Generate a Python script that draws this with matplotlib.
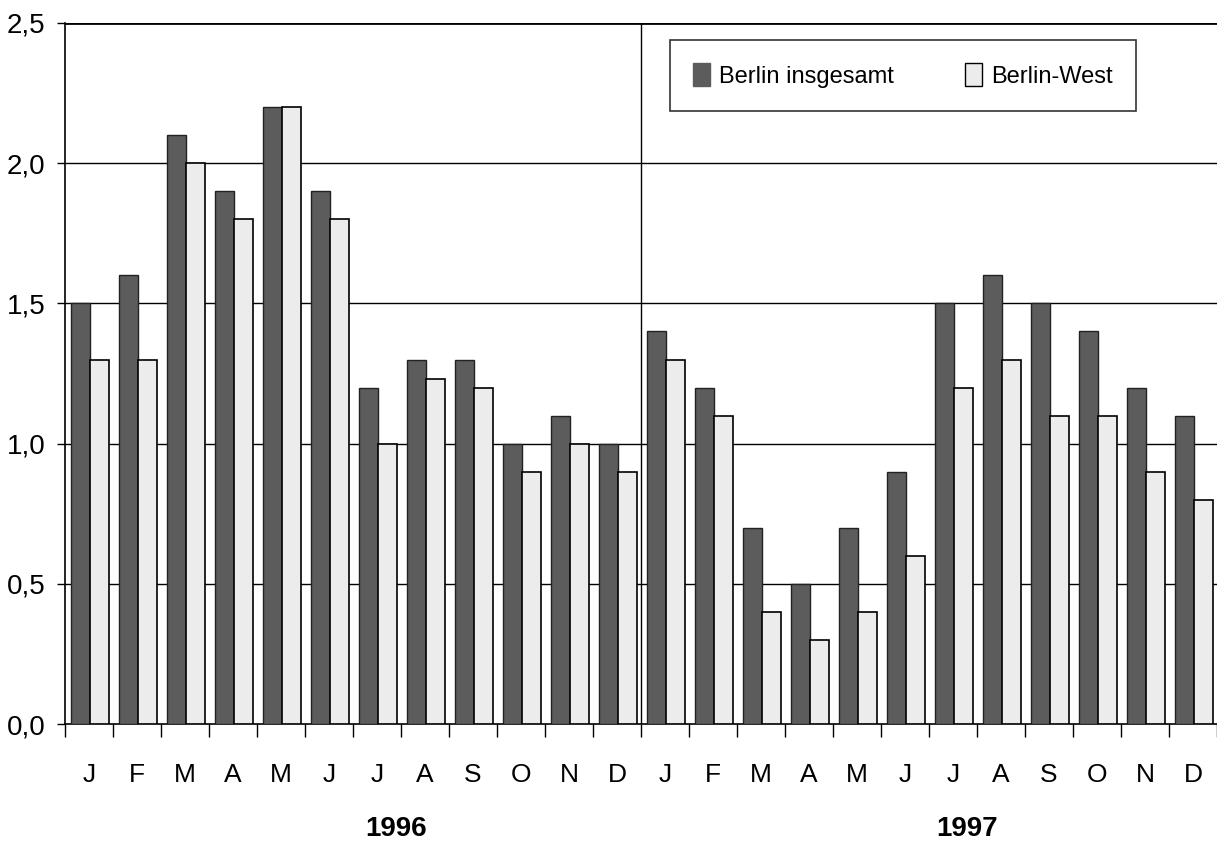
import numpy as np
import matplotlib.pyplot as plt
from matplotlib.patches import Patch

# Data
months = ['J', 'F', 'M', 'A', 'M', 'J', 'J', 'A', 'S', 'O', 'N', 'D'] * 2
years = ['1996', '1997']
berlin_total = [1.5, 1.6, 2.1, 1.9, 2.2, 1.9, 1.2, 1.3, 1.3, 1.0, 1.1, 1.0,
                1.4, 1.2, 0.7, 0.5, 0.7, 0.9, 1.5, 1.6, 1.5, 1.4, 1.2, 1.1]
berlin_west = [1.3, 1.3, 2.0, 1.8, 2.2, 1.8, 1.0, 1.23, 1.2, 0.9, 1.0, 0.9,
               1.3, 1.1, 0.4, 0.3, 0.4, 0.6, 1.2, 1.3, 1.1, 1.1, 0.9, 0.8]
y_ticks = [0.0, 0.5, 1.0, 1.5, 2.0, 2.5]

plt.rcParams['font.family'] = ['Liberation Sans', 'DejaVu Sans']

fig = plt.figure(figsize=(12.17, 8.41), dpi=100)
ax = fig.add_axes([0.0534, 0.139, 0.9466, 0.8337])

x = np.arange(len(months))
ax.bar(x - 0.18, berlin_total, width=0.4, color='#5c5c5c', edgecolor='#222222',
       linewidth=1.0, zorder=3, label='Berlin insgesamt')
ax.bar(x + 0.22, berlin_west, width=0.4, color='#ececec', edgecolor='black',
       linewidth=1.2, zorder=3, label='Berlin-West')

ax.set_xlim(-0.5, len(months) - 0.5)
ax.set_ylim(0, 2.5)

# horizontal grid
for yv in y_ticks[1:]:
    ax.axhline(yv, color='black', linewidth=1.0 if yv < 2.5 else 2.0, zorder=1)
# year separator
ax.axvline(11.5, color='black', linewidth=1.0, zorder=2)

ax.set_yticks(y_ticks)
ax.set_yticklabels([f'{v:.1f}'.replace('.', ',') for v in y_ticks], fontsize=20)
ax.tick_params(axis='y', length=6, width=1, pad=8)

ax.set_xticks(x)
ax.set_xticklabels(months, fontsize=19)
ax.tick_params(axis='x', length=0, pad=28)
ax.set_xticks(np.arange(-0.5, len(months), 1), minor=True)
ax.tick_params(axis='x', which='minor', length=9, width=1, direction='out')

for s in ['top', 'right']:
    ax.spines[s].set_visible(False)
ax.spines['left'].set_linewidth(1.2)
ax.spines['bottom'].set_linewidth(1.2)

# year labels
for xpos, yr in zip([6.4, 18.3], years):
    ax.text(xpos, -0.375, yr, ha='center', va='center', fontsize=20,
            fontweight='bold', transform=ax.transData)

handles = [Patch(facecolor='#5c5c5c', edgecolor='#5c5c5c'),
           Patch(facecolor='#ececec', edgecolor='black')]
leg = ax.legend(handles, ['Berlin insgesamt', 'Berlin-West'], ncol=2,
                loc='upper left', bbox_to_anchor=(0.525, 0.976),
                fontsize=17, frameon=True, fancybox=False, edgecolor='black',
                handlelength=0.7, handleheight=1.1, handletextpad=0.4,
                columnspacing=3.0, borderpad=1.0, borderaxespad=0)
leg.get_frame().set_linewidth(1.2)
leg.set_zorder(5)

plt.savefig('out.png', dpi=100)
